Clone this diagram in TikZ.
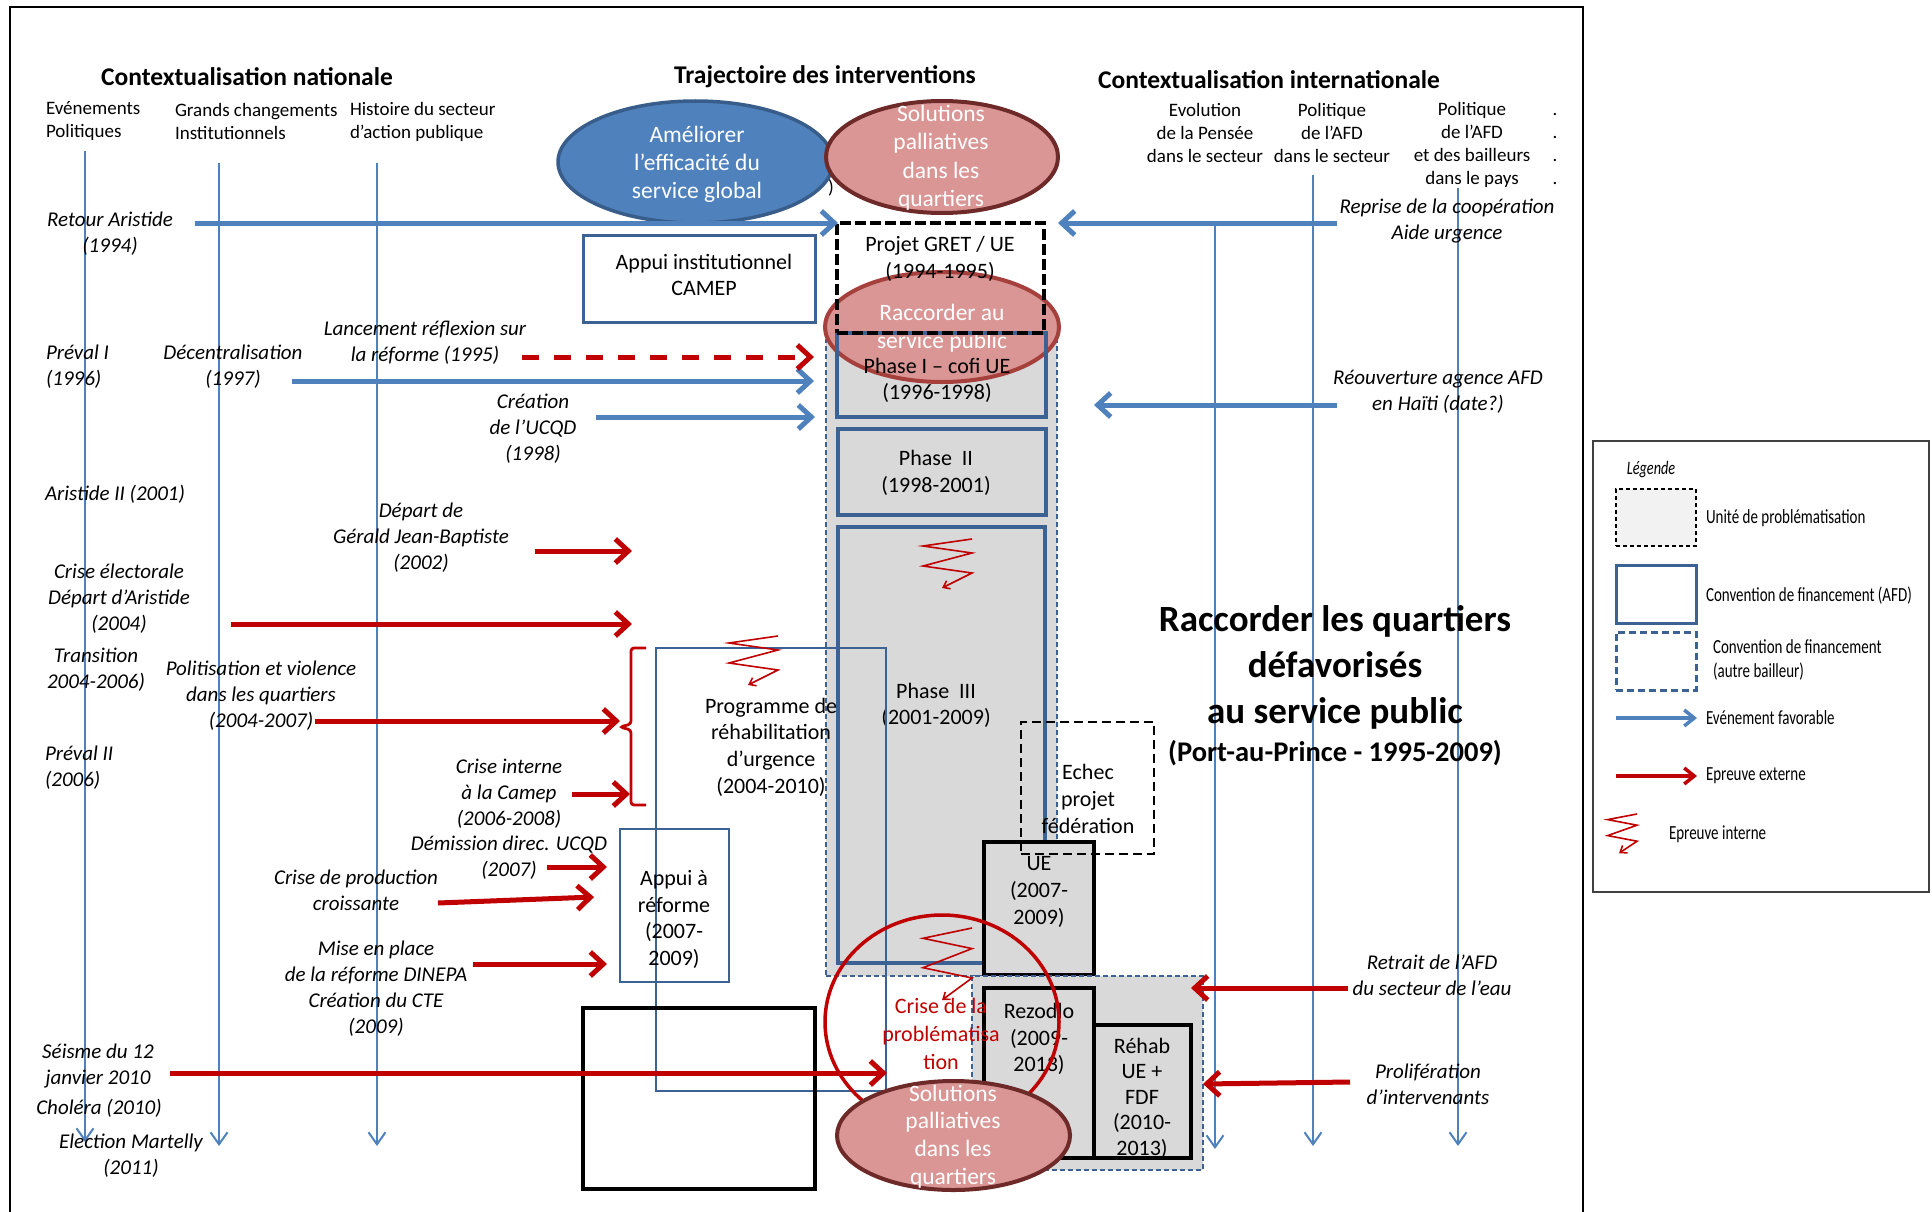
\documentclass[tikz,border=0pt]{standalone}
\usepackage{fontspec}
\setmainfont{Carlito}
\newfontfamily\legfont{Carlito}[FakeStretch=0.75]
\usetikzlibrary{arrows.meta,shapes.geometric}
\definecolor{lblue}{RGB}{79,129,189}
\definecolor{bblue}{RGB}{60,98,148}
\definecolor{dred}{RGB}{192,0,0}
\definecolor{pinkf}{RGB}{217,150,148}
\definecolor{pinkb}{RGB}{110,42,40}
\definecolor{pinkb2}{RGB}{165,64,61}
\definecolor{gfill}{RGB}{217,217,217}
\definecolor{lgfill}{RGB}{242,242,242}
\definecolor{eblueb}{RGB}{56,93,138}
\begin{document}
\begin{tikzpicture}[x=1pt,y=-1pt,
  every node/.style={inner sep=0pt,outer sep=0pt},
  hdr/.style={font=\fontsize{19}{23}\selectfont,align=left},
  hdrc/.style={font=\fontsize{19}{23}\selectfont,align=center},
  ttl/.style={font=\fontsize{25.5}{30}\selectfont\bfseries},
  lbl/.style={font=\fontsize{21}{26}\selectfont\itshape,align=center},
  lbll/.style={font=\fontsize{21}{26}\selectfont\itshape,align=left},
  btxt/.style={font=\fontsize{22}{26.7}\selectfont,align=center},
  etxt/.style={font=\fontsize{23.5}{28}\selectfont,align=center,text=white},
  legtxt/.style={font=\legfont\fontsize{20}{24}\selectfont,align=left},
  afd/.style={rectangle,draw=bblue,line width=4},
  afdthin/.style={rectangle,draw=bblue,line width=3},
  unitbox/.style={rectangle,draw=bblue,fill=gfill,line width=1.5,dash pattern=on 5pt off 3pt},
  blk/.style={rectangle,draw=black,line width=4.5},
  vline/.style={draw=lblue,line width=2,-{Straight Barb[length=12pt,width=17pt]}},
  bluearr/.style={draw=lblue,line width=5,-{Straight Barb[length=13pt,width=24pt]}},
  redarr/.style={draw=dred,line width=5,-{Straight Barb[length=13pt,width=24pt]}},
  zz/.pic={\draw[dred,line width=1.6,-{Straight Barb[length=6pt,width=9pt]}] (0,0) -- (-49,7) -- (0,14) -- (-49,27) -- (0,34) -- (-30,49);}
]
\useasboundingbox (0,0) rectangle (1932,1212);
% frame
\draw[line width=2.5] (10,1215) -- (10,7) -- (1583,7) -- (1583,1215);

% ---------------- legend
\node[rectangle,draw=black!75,line width=2,minimum width=336pt,minimum height=451pt] (leg) at (1761,666.5) {};
\node[font=\legfont\fontsize{19}{22}\selectfont\itshape] (legT) at (1651,470) {Légende};
\node[rectangle,draw=black,fill=lgfill,line width=1.3,dash pattern=on 4pt off 3pt,minimum width=80pt,minimum height=57pt] (legU) at (1656,517.5) {};
\node[legtxt,anchor=west] (legUt) at (1706,518) {Unité de problématisation};
\node[rectangle,draw=bblue,line width=3,minimum width=80pt,minimum height=58pt] (legA) at (1656,594) {};
\node[legtxt,anchor=west] (legAt) at (1706,596) {Convention de financement (AFD)};
\node[rectangle,draw=bblue,line width=3,dash pattern=on 7pt off 4pt,minimum width=80pt,minimum height=58pt] (legB) at (1656,661) {};
\node[legtxt,anchor=west] (legBt) at (1713,660) {Convention de financement\\(autre bailleur)};
\coordinate (legF1) at (1616,718); \coordinate (legF2) at (1697,718);
\draw[draw=lblue,line width=3.5,-{Straight Barb[length=10pt,width=16pt]}] (legF1) -- (legF2);
\node[legtxt,anchor=west] (legFt) at (1706,718) {Evénement favorable};
\coordinate (legE1) at (1616,776); \coordinate (legE2) at (1697,776);
\draw[draw=dred,line width=3.5,-{Straight Barb[length=10pt,width=16pt]}] (legE1) -- (legE2);
\node[legtxt,anchor=west] (legEt) at (1706,776) {Epreuve externe};
\pic[xscale=0.6,yscale=0.8] at (1637,814) {zz};
\node[legtxt,anchor=west] (legIt) at (1669,834) {Epreuve interne};

% ---------------- vertical axes
\coordinate (v1t) at (85,151);   \coordinate (v1b) at (85,1142);
\coordinate (v2t) at (219,163);  \coordinate (v2b) at (219,1146);
\coordinate (v3t) at (377,163);  \coordinate (v3b) at (377,1146);
\coordinate (v4t) at (1215,224); \coordinate (v4b) at (1215,1149);
\coordinate (v5t) at (1313,175); \coordinate (v5b) at (1313,1146);
\coordinate (v6t) at (1458,188); \coordinate (v6b) at (1458,1146);
\foreach \v in {1,...,6} {\draw[vline] (v\v t) -- (v\v b);}

% ---------------- titles and column headers
\node[ttl] (t1) at (247,77) {Contextualisation nationale};
\node[ttl] (t2) at (825,77) {Trajectoire des interventions};
\node[ttl] (t3) at (1269,80) {Contextualisation internationale};
\node[hdr,anchor=west] (h1) at (46,121.5) {Evénements\\Politiques};
\node[hdr,anchor=west] (h2) at (175,121.5) {Grands changements\\Institutionnels};
\node[hdr,anchor=west] (h3) at (350,121.5) {Histoire du secteur\\d’action publique};
\node[hdrc] (h4) at (1205,133) {Evolution\\de la Pensée\\dans le secteur};
\node[hdrc] (h5) at (1332,133) {Politique\\de l’AFD\\dans le secteur};
\node[hdrc] (h6) at (1472,145) {Politique\\de l’AFD\\et des bailleurs\\dans le pays};
\node[hdrc] (h7) at (1555,145) {\strut.\\\strut.\\\strut.\\\strut.};

% ---------------- problematisation units (grey)
\node[unitbox,minimum width=231pt,minimum height=636pt] (unit1) at (941.5,658) {};

% ---------------- ellipses top
\node[ellipse,draw=eblueb,fill=lblue,line width=3.5,minimum width=275pt,minimum height=122pt] (eAm) at (695.5,162) {};
\node[ellipse,draw=pinkb,fill=pinkf,line width=4,minimum width=232pt,minimum height=112pt] (eSol) at (942,157) {};
\node[etxt] (eAmT) at (697,164.5) {Améliorer\\l’efficacité du\\service global};
\node[etxt,font=\fontsize{23.5}{28.5}\selectfont] (eSolT) at (941,157.5) {Solutions\\palliatives\\dans les\\quartiers};
\node[font=\fontsize{19}{23}\selectfont] (par) at (831,188) {)};
\node[ellipse,draw=pinkb2,fill=pinkf,line width=4,minimum width=234pt,minimum height=110pt] (eRac) at (942,327) {};
\node[etxt] (eRacT) at (942,328) {Raccorder au\\service public};

% ---------------- phase boxes
\node[afd,minimum width=209pt,minimum height=84pt] (ph1) at (941.5,375) {};
\node[afd,minimum width=208pt,minimum height=86pt] (ph2) at (942,472) {};
\node[afd,minimum width=207pt,minimum height=436pt] (ph3) at (941.5,745) {};
\node[rectangle,draw=black,line width=4,dash pattern=on 11pt off 4pt,minimum width=207pt,minimum height=110pt] (gret) at (940.5,278) {};
\node[btxt] (gretT) at (940,259) {Projet GRET / UE\\(1994-1995)};
\node[btxt] (ph1T) at (937,380.5) {Phase I – cofi UE\\(1996-1998)};
\node[btxt] (ph2T) at (936,473) {Phase\ \ II\\(1998-2001)};
\node[btxt] (ph3T) at (936,705.5) {Phase\ \ III\\(2001-2009)};

% ---------------- other AFD boxes
\node[afdthin,minimum width=232pt,minimum height=87pt] (appI) at (699,278.5) {};
\node[btxt] (appIT) at (704,275) {Appui institutionnel\\CAMEP};
\node[rectangle,draw=bblue,line width=2.8,minimum width=230pt,minimum height=443pt] (prog) at (771,869.5) {};
\node[btxt] (progT) at (771,747) {Programme de\\réhabilitation\\d’urgence\\(2004-2010)};
\node[rectangle,draw=bblue,line width=2.8,minimum width=109pt,minimum height=153pt] (appR) at (674.5,905.5) {};
\node[btxt] (appRT) at (674,919.5) {Appui à\\réforme\\(2007-\\2009)};
\node[blk,minimum width=232pt,minimum height=181pt] (blkbox) at (699,1098.5) {};

% ---------------- lower right boxes
\node[blk,fill=gfill,minimum width=110pt,minimum height=133pt] (ue) at (1039,908.5) {};
\node[unitbox,minimum width=231pt,minimum height=194pt] (unit2) at (1087.5,1073) {};
\node[blk,fill=gfill,minimum width=110pt,minimum height=170pt] (rez) at (1039,1073) {};
\node[blk,fill=gfill,minimum width=97pt,minimum height=133pt] (reh) at (1142.5,1091.5) {};
\node[rectangle,draw=black,line width=1.6,dash pattern=on 9pt off 5pt,minimum width=133pt,minimum height=132pt] (echec) at (1087.5,788) {};
\node[btxt] (echecT) at (1088,799) {Echec\\projet\\fédération};
\node[btxt] (ueT) at (1039,892) {UE\\(2007-\\2009)};
\node[btxt] (rezT) at (1039,1039) {Rezodlo\\(2009-\\2013)};
\node[btxt,font=\fontsize{22}{25.5}\selectfont] (rehT) at (1142,1098) {Réhab\\UE +\\FDF\\(2010-\\2013)};

% ---------------- internal trials
\pic at (972,539) {zz};
\pic at (778,636) {zz};
\pic[yscale=1.47] at (972,928) {zz};

% ---------------- big title
\node[font=\fontsize{37}{46}\selectfont\bfseries,align=center] (bigT) at (1335,667) {Raccorder les quartiers\\défavorisés\\au service public};
\node[font=\fontsize{28.5}{31}\selectfont\bfseries] (bigS) at (1335,753) {(Port-au-Prince - 1995-2009)};

% ---------------- national labels
\node[lbl] (lRet) at (110,234) {Retour Aristide\\(1994)};
\node[lbl] (lLan) at (425,343) {Lancement réflexion sur\\la réforme (1995)};
\node[lbll,anchor=west] (lPr1) at (46,367) {Préval I\\(1996)};
\node[lbl] (lDec) at (233,367) {Décentralisation\\(1997)};
\node[lbl] (lCre) at (533,429) {Création\\de l’UCQD\\(1998)};
\node[lbll,anchor=west] (lAr2) at (45,494) {Aristide II (2001)};
\node[lbl] (lDep) at (421,538) {Départ de\\Gérald Jean-Baptiste\\(2002)};
\node[lbl] (lCel) at (119,599) {Crise électorale\\Départ d’Aristide\\(2004)};
\node[lbl] (lTra) at (96,670) {Transition\\2004-2006)};
\node[lbl] (lPol) at (261,696) {Politisation et violence\\dans les quartiers\\(2004-2007)};
\node[lbll,anchor=west] (lPr2) at (45,768) {Préval II\\(2006)};
\node[lbl] (lCin) at (509,794) {Crise interne\\à la Camep\\(2006-2008)};
\node[lbl] (lDem) at (509,857.5) {Démission direc. UCQD\\(2007)};
\node[lbl] (lPro) at (356,890) {Crise de production\\croissante};
\node[lbl] (lMis) at (376,988.5) {Mise en place\\de la réforme DINEPA\\Création du CTE\\(2009)};
\node[lbl] (lSei) at (98,1065.5) {Séisme du 12\\janvier 2010};
\node[lbl] (lCho) at (99,1108) {Choléra (2010)};
\node[lbl] (lEle) at (131,1155.5) {Election Martelly\\(2011)};
% international labels
\node[lbl] (lRep) at (1447,221.5) {Reprise de la coopération\\Aide urgence};
\node[lbl] (lReo) at (1438,392) {Réouverture agence AFD\\en Haïti (date?)};
\node[lbl] (lRtr) at (1432,975) {Retrait de l’AFD\\du secteur de l’eau};
\node[lbl] (lPrl) at (1428,1084) {Prolifération\\d’intervenants};

% ---------------- favourable events (blue)
\coordinate (aRet1) at (195,223); \coordinate (aRet2) at (838,223);
\draw[bluearr] (aRet1) -- (aRet2);
\coordinate (aDec1) at (292,381); \coordinate (aDec2) at (814,381);
\draw[bluearr] (aDec1) -- (aDec2);
\coordinate (aCre1) at (596,417); \coordinate (aCre2) at (815,417);
\draw[bluearr] (aCre1) -- (aCre2);
\coordinate (aRep1) at (1337,223); \coordinate (aRep2) at (1058,223);
\draw[bluearr] (aRep1) -- (aRep2);
\coordinate (aReo1) at (1337,405); \coordinate (aReo2) at (1094,405);
\draw[bluearr] (aReo1) -- (aReo2);

% ---------------- external trials (red)
\coordinate (aLan1) at (522,357); \coordinate (aLan2) at (814,357);
\draw[redarr,dash pattern=on 17pt off 15pt] (aLan1) -- (aLan2);
\coordinate (aDep1) at (535,551); \coordinate (aDep2) at (632,551);
\draw[redarr] (aDep1) -- (aDep2);
\coordinate (aCel1) at (231,624); \coordinate (aCel2) at (632,624);
\draw[redarr] (aCel1) -- (aCel2);
\coordinate (aPol1) at (315,721); \coordinate (aPol2) at (620,721);
\draw[redarr] (aPol1) -- (aPol2);
\coordinate (aCin1) at (572,794); \coordinate (aCin2) at (630,794);
\draw[redarr] (aCin1) -- (aCin2);
\coordinate (aDem1) at (547,867); \coordinate (aDem2) at (607,867);
\draw[redarr] (aDem1) -- (aDem2);
\coordinate (aPro1) at (438,903); \coordinate (aPro2) at (594,897);
\draw[redarr] (aPro1) -- (aPro2);
\coordinate (aMis1) at (473,964); \coordinate (aMis2) at (607,964);
\draw[redarr] (aMis1) -- (aMis2);
\coordinate (aSei1) at (170,1073); \coordinate (aSei2) at (887,1073);
\draw[redarr] (aSei1) -- (aSei2);
\coordinate (aRtr1) at (1348,988); \coordinate (aRtr2) at (1191,988);
\draw[redarr] (aRtr1) -- (aRtr2);
\coordinate (aPrl1) at (1350,1082); \coordinate (aPrl2) at (1203,1084);
\draw[redarr] (aPrl1) -- (aPrl2);
% bracket
\coordinate (brT) at (646,648); \coordinate (brM) at (620,727); \coordinate (brB) at (646,805);
\draw[dred,line width=2.8,rounded corners=3pt] (brT) -- (631,648) -- (631,724) -- (brM) -- (631,730) -- (631,805) -- (brB);

% ---------------- crisis of problematisation
\node[ellipse,draw=dred,line width=3.5,minimum width=234pt,minimum height=214pt] (crc) at (942,1022) {};
\node[btxt,text=dred,font=\fontsize{22}{28}\selectfont] (crcT) at (941,1034) {Crise de la\\problématisa\\tion};
\node[ellipse,draw=pinkb,fill=pinkf,line width=4,minimum width=233pt,minimum height=109pt] (eSol2) at (953.5,1135.5) {};
\node[etxt,font=\fontsize{23.5}{27.7}\selectfont] (eSol2T) at (953,1136.5) {Solutions\\palliatives\\dans les\\quartiers};
\end{tikzpicture}
\end{document}
